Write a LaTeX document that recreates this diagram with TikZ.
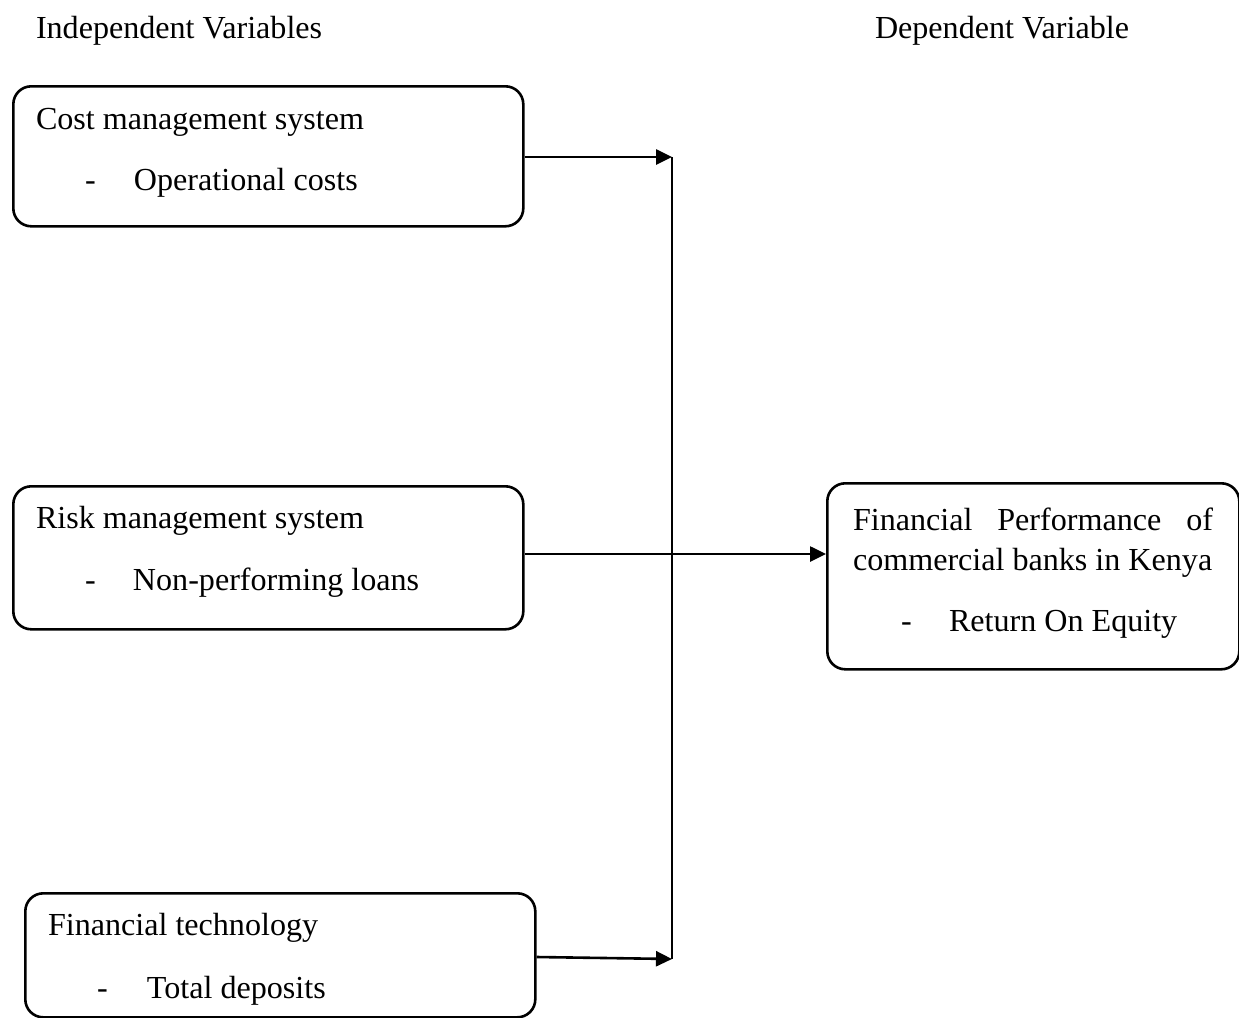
\documentclass[tikz,border=0pt]{standalone}
\usepackage{fontspec}
\setmainfont{Liberation Serif}
\usetikzlibrary{arrows.meta}
\begin{document}
\begin{tikzpicture}[x=1pt,y=-1pt,
  box/.style={draw, line width=2.6pt, rounded corners=18pt, inner sep=0pt, anchor=north west},
  txt/.style={anchor=base west, inner sep=0pt, outer sep=0pt, font=\fontsize{32.1}{36}\selectfont},
  conn/.style={line width=2.6pt},
  arr/.style={conn, -{Triangle[length=16pt,width=15pt]}}]
\useasboundingbox (0,0) rectangle (1239,1017);
% headers
\node[txt] (hind) at (36,38) {Independent Variables};
\node[txt] (hdep) at (875,38) {Dependent Variable};
% boxes
\node[box, minimum width=510pt, minimum height=140pt] (b1) at (12,85) {};
\node[box, minimum width=510pt, minimum height=143pt] (b2) at (12,485) {};
\node[box, minimum width=510pt, minimum height=124pt] (b3) at (24,892) {};
\node[box, minimum width=412pt, minimum height=186pt] (b4) at (826,482) {};
% box texts
\node[txt] (t1a) at (36,129) {Cost management system};
\node[txt] (t1b) at (85,190) {\makebox[49pt][l]{-}Operational costs};
\node[txt] (t2a) at (36,528) {Risk management system};
\node[txt] (t2b) at (85,590) {\makebox[48pt][l]{-}Non-performing loans};
\node[txt] (t3a) at (48,935) {Financial technology};
\node[txt] (t3b) at (97,998) {\makebox[50pt][l]{-}Total deposits};
\node[txt] (t4a) at (853,530) {\makebox[360pt][s]{Financial\hfill Performance\hfill of}};
\node[txt] (t4b) at (853,570) {commercial banks in Kenya};
\node[txt] (t4c) at (901,631) {\makebox[48pt][l]{-}Return On Equity};
% connectors
\coordinate (j1) at (672,157);
\coordinate (j3) at (672,959);
\coordinate (y3) at (0,957);
\coordinate (ym) at (0,554);
\draw[arr] (b1.east |- j1) -- (j1);
\draw[conn] (j1) -- (j3);
\draw[arr] (b3.east |- y3) -- (j3);
\draw[arr] (b2.east |- ym) -- (b4.west |- ym);
\end{tikzpicture}
\end{document}
